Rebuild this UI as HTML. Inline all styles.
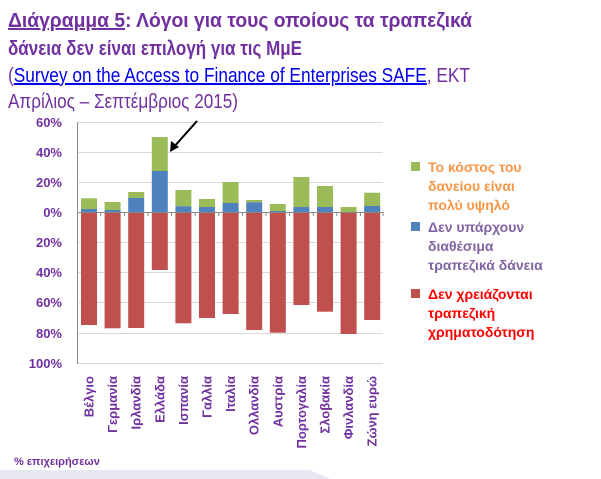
<!DOCTYPE html>
<html><head><meta charset="utf-8"><style>
html,body{margin:0;padding:0;background:#fff;}
svg{display:block;font-family:"Liberation Sans","DejaVu Sans",sans-serif;}
</style></head><body>
<svg width="601" height="479" viewBox="0 0 601 479" xmlns="http://www.w3.org/2000/svg">
<rect width="601" height="479" fill="#fff"/>
<polygon points="0,470 0,479 330,479 310,470" fill="#e8e8f2"/>
<g fill="#7030a0" font-size="20">
<text x="8" y="27" font-weight="bold" textLength="464" lengthAdjust="spacingAndGlyphs"><tspan text-decoration="underline">Διάγραμμα 5</tspan>: Λόγοι για τους οποίους τα τραπεζικά</text>
<text x="8" y="55" font-weight="bold" textLength="294" lengthAdjust="spacingAndGlyphs">δάνεια δεν είναι επιλογή για τις ΜμΕ</text>
<text x="8" y="82" textLength="462" lengthAdjust="spacingAndGlyphs">(<tspan fill="#0000ee" text-decoration="underline">Survey on the Access to Finance of Enterprises SAFE</tspan>, ΕΚΤ</text>
<text x="8" y="108" textLength="230" lengthAdjust="spacingAndGlyphs">Απρίλιος – Σεπτέμβριος 2015)</text>
</g>
<g stroke="#d9d9d9" stroke-width="1">
<line x1="77" y1="122.5" x2="383" y2="122.5"/><line x1="77" y1="152.5" x2="383" y2="152.5"/>
<line x1="77" y1="182.5" x2="383" y2="182.5"/><line x1="77" y1="242.5" x2="383" y2="242.5"/>
<line x1="77" y1="272.5" x2="383" y2="272.5"/><line x1="77" y1="302.5" x2="383" y2="302.5"/>
<line x1="77" y1="333.5" x2="383" y2="333.5"/><line x1="77" y1="363.5" x2="383" y2="363.5"/>
</g>
<line x1="77.5" y1="122" x2="77.5" y2="364" stroke="#888"/>
<g fill="#7030a0" font-size="13" font-weight="bold" text-anchor="end">
<text x="62" y="127">60%</text><text x="62" y="157">40%</text><text x="62" y="187">20%</text>
<text x="62" y="217">0%</text><text x="62" y="247">20%</text><text x="62" y="277">40%</text>
<text x="62" y="307">60%</text><text x="62" y="338">80%</text><text x="62" y="368">100%</text>
</g>
<g>
<rect x="81" y="198.3" width="16" height="10.7" fill="#9bbb59"/><rect x="81" y="209" width="16" height="3.3" fill="#4f81bd"/><rect x="81" y="212.3" width="16" height="112.7" fill="#c0504d"/>
<rect x="104.6" y="202" width="16" height="8" fill="#9bbb59"/><rect x="104.6" y="210" width="16" height="2.3" fill="#4f81bd"/><rect x="104.6" y="212.3" width="16" height="116" fill="#c0504d"/>
<rect x="128.2" y="192" width="16" height="6" fill="#9bbb59"/><rect x="128.2" y="198" width="16" height="14.3" fill="#4f81bd"/><rect x="128.2" y="212.3" width="16" height="115.7" fill="#c0504d"/>
<rect x="151.8" y="137" width="16" height="34" fill="#9bbb59"/><rect x="151.8" y="171" width="16" height="41.3" fill="#4f81bd"/><rect x="151.8" y="212.3" width="16" height="57.7" fill="#c0504d"/>
<rect x="175.4" y="190" width="16" height="16.3" fill="#9bbb59"/><rect x="175.4" y="206.3" width="16" height="6" fill="#4f81bd"/><rect x="175.4" y="212.3" width="16" height="111" fill="#c0504d"/>
<rect x="199" y="199" width="16" height="8" fill="#9bbb59"/><rect x="199" y="207" width="16" height="5.3" fill="#4f81bd"/><rect x="199" y="212.3" width="16" height="105.7" fill="#c0504d"/>
<rect x="222.6" y="182" width="16" height="21" fill="#9bbb59"/><rect x="222.6" y="203" width="16" height="9.3" fill="#4f81bd"/><rect x="222.6" y="212.3" width="16" height="101.7" fill="#c0504d"/>
<rect x="246.2" y="200" width="16" height="2.3" fill="#9bbb59"/><rect x="246.2" y="202.3" width="16" height="10" fill="#4f81bd"/><rect x="246.2" y="212.3" width="16" height="117.7" fill="#c0504d"/>
<rect x="269.8" y="204" width="16" height="7" fill="#9bbb59"/><rect x="269.8" y="211" width="16" height="1.3" fill="#4f81bd"/><rect x="269.8" y="212.3" width="16" height="120.4" fill="#c0504d"/>
<rect x="293.4" y="177" width="16" height="30" fill="#9bbb59"/><rect x="293.4" y="207" width="16" height="5.3" fill="#4f81bd"/><rect x="293.4" y="212.3" width="16" height="92.7" fill="#c0504d"/>
<rect x="317" y="186" width="16" height="21" fill="#9bbb59"/><rect x="317" y="207" width="16" height="5.3" fill="#4f81bd"/><rect x="317" y="212.3" width="16" height="99.4" fill="#c0504d"/>
<rect x="340.6" y="207" width="16" height="5.3" fill="#9bbb59"/><rect x="340.6" y="212.3" width="16" height="121.7" fill="#c0504d"/>
<rect x="364.2" y="192.7" width="16" height="13.3" fill="#9bbb59"/><rect x="364.2" y="206" width="16" height="6.3" fill="#4f81bd"/><rect x="364.2" y="212.3" width="16" height="107.7" fill="#c0504d"/>
</g>
<line x1="77" y1="212.5" x2="383" y2="212.5" stroke="#888"/>
<g stroke="#888">
<line x1="100.8" y1="212" x2="100.8" y2="216"/><line x1="124.4" y1="212" x2="124.4" y2="216"/><line x1="148" y1="212" x2="148" y2="216"/><line x1="171.6" y1="212" x2="171.6" y2="216"/><line x1="195.2" y1="212" x2="195.2" y2="216"/><line x1="218.8" y1="212" x2="218.8" y2="216"/><line x1="242.4" y1="212" x2="242.4" y2="216"/><line x1="266" y1="212" x2="266" y2="216"/><line x1="289.6" y1="212" x2="289.6" y2="216"/><line x1="313.2" y1="212" x2="313.2" y2="216"/><line x1="336.8" y1="212" x2="336.8" y2="216"/><line x1="360.4" y1="212" x2="360.4" y2="216"/><line x1="383" y1="212" x2="383" y2="216"/>
</g>
<line x1="197" y1="121" x2="173" y2="148" stroke="#000" stroke-width="2"/>
<polygon points="170,152 171,141 179,147" fill="#000"/>
<g fill="#7030a0" font-size="13" font-weight="bold" text-anchor="end">
<text transform="translate(93.5,376) rotate(-90)">Βέλγιο</text>
<text transform="translate(117.1,376) rotate(-90)">Γερμανία</text>
<text transform="translate(140.7,376) rotate(-90)">Ιρλανδία</text>
<text transform="translate(164.3,376) rotate(-90)">Ελλάδα</text>
<text transform="translate(187.9,376) rotate(-90)">Ισπανία</text>
<text transform="translate(211.5,376) rotate(-90)">Γαλλία</text>
<text transform="translate(235.1,376) rotate(-90)">Ιταλία</text>
<text transform="translate(258.7,376) rotate(-90)">Ολλανδία</text>
<text transform="translate(282.3,376) rotate(-90)">Αυστρία</text>
<text transform="translate(305.9,376) rotate(-90)">Πορτογαλία</text>
<text transform="translate(329.5,376) rotate(-90)">Σλοβακία</text>
<text transform="translate(353.1,376) rotate(-90)">Φινλανδία</text>
<text transform="translate(376.7,376) rotate(-90)">Ζώνη ευρώ</text>
</g>
<text x="14" y="465" fill="#7030a0" font-size="11" font-weight="bold">% επιχειρήσεων</text>
<g font-size="14" font-weight="bold">
<rect x="411" y="162" width="9" height="9" fill="#9bbb59"/>
<text x="428" y="172" fill="#f79646">Το κόστος του</text>
<text x="428" y="191" fill="#f79646">δανείου είναι</text>
<text x="428" y="210" fill="#f79646">πολύ υψηλό</text>
<rect x="411" y="222" width="9" height="9" fill="#4f81bd"/>
<text x="428" y="232" fill="#8064a2">Δεν υπάρχουν</text>
<text x="428" y="251" fill="#8064a2">διαθέσιμα</text>
<text x="428" y="270" fill="#8064a2">τραπεζικά δάνεια</text>
<rect x="411" y="289" width="9" height="9" fill="#c0504d"/>
<text x="428" y="299" fill="#ff0000">Δεν χρειάζονται</text>
<text x="428" y="318" fill="#ff0000">τραπεζική</text>
<text x="428" y="337" fill="#ff0000">χρηματοδότηση</text>
</g>
</svg>
</body></html>
